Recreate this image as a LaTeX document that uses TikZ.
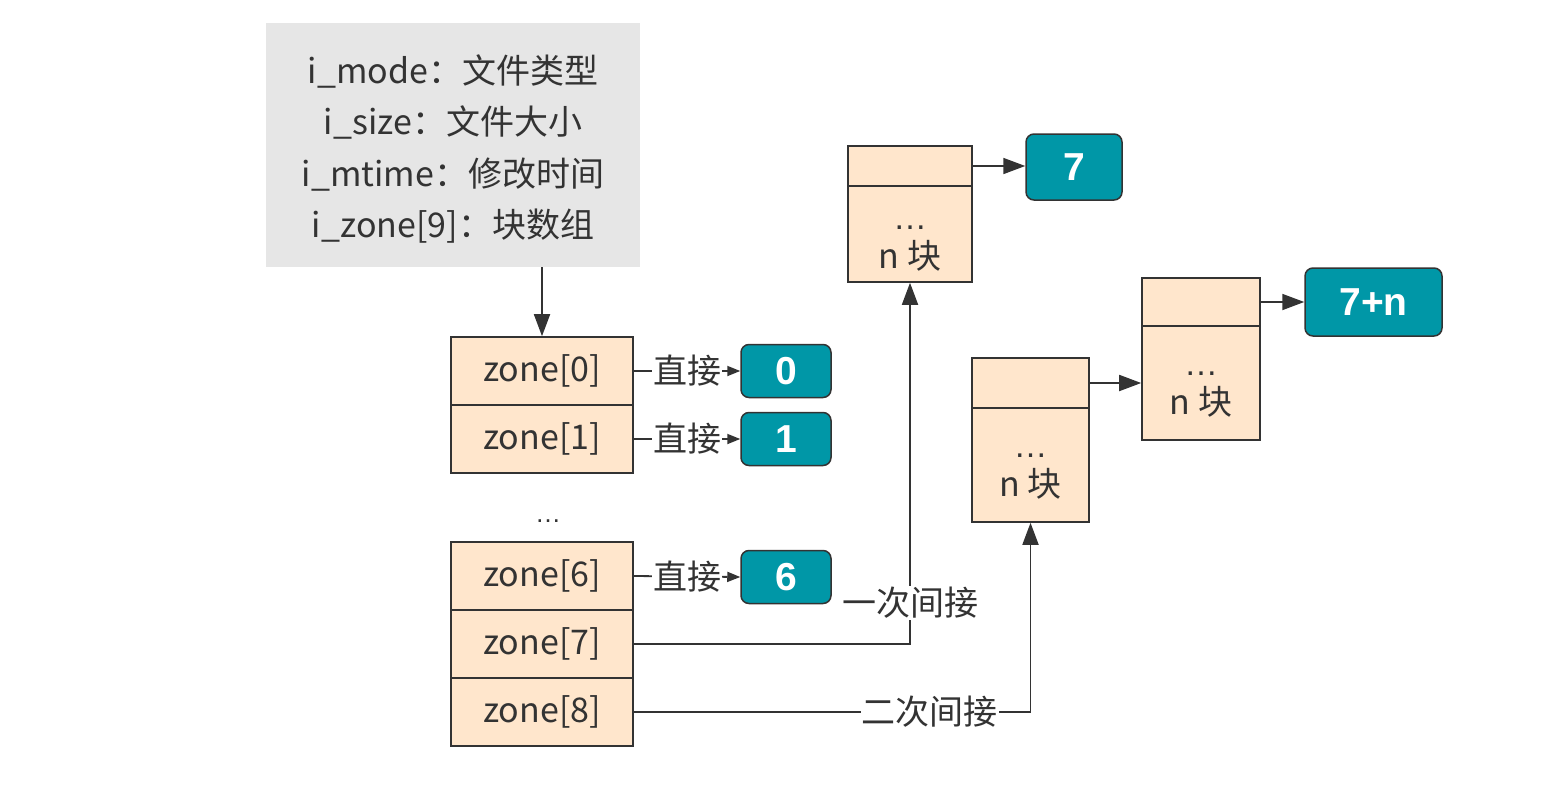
\documentclass[tikz,border=0pt]{standalone}
\usepackage{fontspec}
\setmainfont{Noto Sans CJK SC}
\newfontfamily\numfont{Liberation Sans}
\newfontfamily\latfont{Liberation Sans}
\usetikzlibrary{arrows.meta}
\definecolor{peach}{HTML}{FFE6CC}
\definecolor{tealbox}{HTML}{0097A7}
\definecolor{graybg}{HTML}{E6E6E6}
\definecolor{ink}{HTML}{333333}
\begin{document}
\begin{tikzpicture}[x=1pt,y=-1pt,
  txt/.style={text=ink, font=\fontsize{34}{40}\selectfont},
  infobox/.style={fill=graybg, draw=none, minimum width=374pt, minimum height=244pt, inner sep=0pt},
  infotext/.style={align=center, text=ink, inner sep=0pt, font=\fontsize{34}{51.5}\selectfont},
  zonebox/.style={draw=ink, fill=peach, line width=1.6pt, minimum width=182pt, minimum height=68pt, inner sep=0pt, txt},
  blkbox/.style={draw=ink, fill=peach, line width=1.6pt, inner sep=0pt},
  blktext/.style={align=center, inner sep=0pt, text=ink, font=\fontsize{34}{39}\selectfont},
  numbox/.style={draw=ink, fill=tealbox, rounded corners=8pt, line width=1.5pt, inner sep=0pt, text=white, font=\numfont\bfseries\fontsize{39}{42}\selectfont},
  conn/.style={draw=ink, line width=1.8pt},
  bigarr/.style={conn, -{Triangle[length=22pt,width=16pt]}},
  smallarr/.style={conn, -{Triangle[length=13pt,width=10pt]}},
  lbl/.style={fill=white, inner sep=1pt, txt}
]
\useasboundingbox (0,0) rectangle (1562,792);

% info box
\node[infobox] (info) at (453,145) {};
\node[infotext] (infoTxt) at (453,149) {i\_mode：文件类型\\i\_size：文件大小\\i\_mtime：修改时间\\i\_zone[9]：块数组};

% zone boxes
\node[zonebox] (z0) at (542,371) {zone[0]};
\node[zonebox] (z1) at (542,439) {zone[1]};
\node[txt, font=\latfont\fontsize{26}{30}\selectfont] (dots) at (548,521) {…};
\node[zonebox] (z6) at (542,576) {zone[6]};
\node[zonebox] (z7) at (542,644) {zone[7]};
\node[zonebox] (z8) at (542,712) {zone[8]};

% numbered blocks
\node[numbox, minimum width=90pt, minimum height=53pt] (n0) at (786,371) {0};
\node[numbox, minimum width=90pt, minimum height=53pt] (n1) at (786,439) {1};
\node[numbox, minimum width=90pt, minimum height=53pt] (n6) at (786,577) {6};
\node[numbox, minimum width=96pt, minimum height=66pt] (n7) at (1074,167) {7};
\node[numbox, minimum width=137pt, minimum height=68pt] (n7n) at (1373.5,302) {7+n};

% block A (single indirect)
\node[blkbox, minimum width=124pt, minimum height=40pt] (aTop) at (910,166) {};
\node[blkbox, minimum width=124pt, minimum height=96pt] (aBot) at (910,234) {};
\node[blktext] (aTxt) at (910,249) {{\latfont …}\\n 块};

% block B (double indirect, level 1)
\node[blkbox, minimum width=117pt, minimum height=50pt] (bTop) at (1030.5,383) {};
\node[blkbox, minimum width=117pt, minimum height=114pt] (bBot) at (1030.5,465) {};
\node[blktext] (bTxt) at (1030.5,477) {{\latfont …}\\n 块};

% block C (double indirect, level 2)
\node[blkbox, minimum width=118pt, minimum height=48pt] (cTop) at (1201,302) {};
\node[blkbox, minimum width=118pt, minimum height=114pt] (cBot) at (1201,383) {};
\node[blktext] (cTxt) at (1201,395) {{\latfont …}\\n 块};

% connectors
\draw[bigarr] (info.south -| z0.north) -- (z0.north);
\draw[smallarr] (z0.east) -- node[lbl] {直接} (n0.west);
\draw[smallarr] (z1.east) -- node[lbl] {直接} (n1.west);
\draw[smallarr] (z6.east) -- node[lbl] {直接} (n6.west);
\draw[bigarr] (aTop.east) -- (n7.west |- aTop.east);
\draw[bigarr] (bTop.east) -- (cBot.west |- bTop.east);
\draw[bigarr] (cTop.east) -- (n7n.west |- cTop.east);
\draw[bigarr] (z7.east) -| node[lbl, pos=0.557] {一次间接} (aBot.south);
\draw[bigarr] (z8.east) -| node[lbl, pos=0.373] {二次间接} (bBot.south);
\end{tikzpicture}
\end{document}
